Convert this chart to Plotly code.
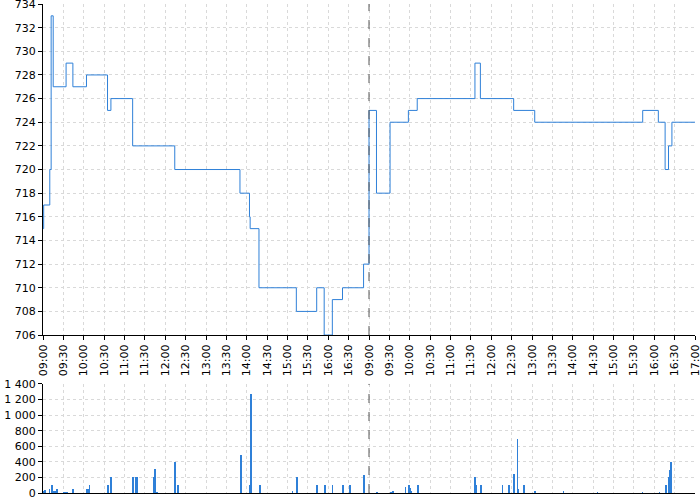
import plotly.graph_objects as go

# ---- data ----
price_day = [1]*22 + [2]*15
price_time = ["09:00", "09:01", "09:10", "09:12", "09:15", "09:34", "09:44", "10:04", "10:35", "10:40",
              "11:12", "12:14", "13:50", "14:04", "14:05", "14:18", "15:13", "15:43", "15:54", "16:06",
              "16:21", "16:52",
              "09:00", "09:11", "09:31", "09:58", "10:11", "11:36", "11:44", "12:33", "13:04", "15:43",
              "16:06", "16:16", "16:21", "16:26", "17:00"]
price = [715, 717, 720, 733, 727, 729, 727, 728, 725, 726,
         722, 720, 718, 716, 715, 710, 708, 710, 706, 709,
         710, 712,
         725, 718, 724, 725, 726, 729, 726, 725, 724, 725,
         724, 720, 722, 724, 724]

vol_day = [1]*36 + [2]*26
vol_time = ["09:00", "09:02", "09:09", "09:13", "09:16", "09:18", "09:20", "09:30", "09:33", "09:35",
            "09:44", "10:04", "10:06", "10:08", "10:35", "10:40", "11:12", "11:16", "11:18", "11:42",
            "11:44", "11:47", "12:14", "12:18", "13:51", "14:04", "14:06", "14:19", "15:07", "15:13",
            "15:43", "15:55", "16:06", "16:21", "16:32", "16:52",
            "09:11", "09:32", "09:35", "09:53", "09:58", "10:00", "10:02", "10:12", "11:36", "11:38",
            "11:44", "12:16", "12:26", "12:33", "12:38", "12:39", "12:48", "13:04", "13:46", "14:36",
            "15:42", "16:07", "16:17", "16:21", "16:22", "16:24"]
volume = [30, 35, 50, 100, 20, 25, 50, 15, 15, 15,
          50, 50, 50, 100, 100, 200, 200, 200, 200, 200,
          310, 10, 400, 100, 490, 100, 1270, 100, 20, 200,
          100, 100, 100, 100, 100, 230,
          10, 10, 20, 80, 100, 70, 20, 100, 200, 100,
          100, 100, 100, 250, 690, 50, 100, 20, 20, 10,
          8, 8, 100, 200, 300, 400]

tick_labels = ["09:00", "09:30", "10:00", "10:30", "11:00", "11:30", "12:00", "12:30",
               "13:00", "13:30", "14:00", "14:30", "15:00", "15:30", "16:00", "16:30"] * 2 + ["17:00"]
vol_ticks = [0, 200, 400, 600, 800, 1000, 1200, 1400]
vol_tick_text = ["0", "200", "400", "600", "800", "1 000", "1 200", "1 400"]


def to_min(day, hhmm):
    h, m = hhmm.split(":")
    return (day - 1) * 480 + int(h) * 60 + int(m) - 540


px = [to_min(d, t) for d, t in zip(price_day, price_time)]
vx = [to_min(d, t) + 0.5 for d, t in zip(vol_day, vol_time)]
tickvals = [i * 30 for i in range(len(tick_labels))]

BLUE = "#2f80d8"
fig = go.Figure()
fig.add_trace(go.Scatter(x=px, y=price, mode="lines", line=dict(color=BLUE, width=1, shape="hv"),
                         xaxis="x", yaxis="y", showlegend=False))
fig.add_trace(go.Bar(x=vx, y=volume, width=1.0, marker=dict(color=BLUE, line=dict(width=0)),
                     xaxis="x2", yaxis="y2", showlegend=False))

axis_common = dict(showline=True, linecolor="black", linewidth=1, ticks="outside", ticklen=4,
                   tickcolor="black", showgrid=True, gridcolor="#d9d9d9", griddash="3px,3px",
                   gridwidth=1, zeroline=False, automargin=False, ticklabeloverflow="allow",
                   tickfont=dict(family="DejaVu Sans", size=11, color="black"))

fig.update_layout(
    width=700, height=500,
    margin=dict(l=43, r=5, t=4, b=7),
    plot_bgcolor="white", paper_bgcolor="white",
    bargap=0,
    xaxis=dict(**axis_common, domain=[0, 1], range=[0, 960], tickvals=tickvals, ticktext=tick_labels,
               tickangle=-90, anchor="y"),
    yaxis=dict(**axis_common, domain=[0.323, 1], range=[706, 734], dtick=2, tick0=706, anchor="x"),
    xaxis2=dict(**axis_common, domain=[0, 1], range=[0, 960], tickvals=tickvals, showticklabels=False,
                anchor="y2", matches="x"),
    yaxis2=dict(**axis_common, domain=[0, 0.223], range=[0, 1400], tickvals=vol_ticks,
                ticktext=vol_tick_text, anchor="x2"),
)
fig.update_xaxes(selector=dict(anchor="y2"), ticks="")

for yr in ["y domain", "y2 domain"]:
    fig.add_shape(type="line", xref="x", yref=yr, x0=480, x1=480, y0=0, y1=1,
                  line=dict(color="#555555", width=1, dash="dash"))

fig.write_html("out.html", config={"displayModeBar": False},
               post_script="document.body.style.margin='0';")
